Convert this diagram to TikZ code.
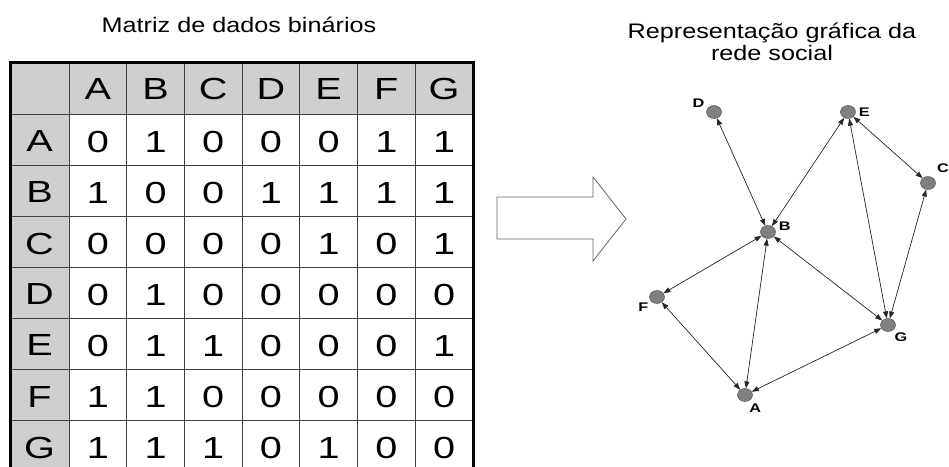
\documentclass[tikz,border=0pt]{standalone}
\usepackage{fontspec}
\usepackage{graphicx}
\setmainfont{Liberation Sans}
\usetikzlibrary{arrows.meta,shapes.geometric,positioning}

% the lettering is set a little wider than the font
\newcommand{\widetext}[2][1.3]{\scalebox{#1}[1]{#2}}

\begin{document}
\begin{tikzpicture}[
    x=1pt, y=-1pt,
    cell/.style={font=\fontsize{30.5}{30}\selectfont, inner sep=0pt},
    heading/.style={font=\fontsize{21}{21}\selectfont, inner sep=0pt, anchor=base},
    actor/.style={ellipse, draw=black!75, fill=black!50, minimum width=15pt, minimum height=13pt, inner sep=0pt},
    tag/.style={font=\bfseries\fontsize{12.5}{12}\selectfont, inner sep=0pt},
    link/.style={{Triangle[length=7pt,width=5pt]}-{Triangle[length=7pt,width=5pt]}, black!85, line width=0.7pt},
    rule/.style={black!75, line width=0.9pt},
    label distance=3pt
]

\fill[white] (0,0) rectangle (949,466);
\useasboundingbox (0,0) rectangle (949,466);

% matrix: shaded header row and column, then the grid
\fill[black!19] (10,62) rectangle (473,114);
\fill[black!19] (10,62) rectangle (69,490);
\foreach \j in {0,...,6}
    \draw[rule] (69+57.7*\j,62) -- (69+57.7*\j,490);
\foreach \i in {0,...,6}
    \draw[rule] (10,114+51*\i) -- (473,114+51*\i);
\draw[line width=3pt] (10,62) rectangle (473,490);

\node[heading] (title-matrix) at (239,32) {\widetext[1.2]{Matriz de dados binários}};

\foreach \name [count=\j] in {A,B,C,D,E,F,G} {
    \node[cell] (col-\name) at (40.15+57.7*\j,89) {\widetext{\name}};
    \node[cell] (row-\name) at (39.5,90.5+51*\j) {\widetext{\name}};
}

\foreach \vals [count=\i] in {{0,1,0,0,0,1,1},{1,0,0,1,1,1,1},{0,0,0,0,1,0,1},
        {0,1,0,0,0,0,0},{0,1,1,0,0,0,1},{1,1,0,0,0,0,0},{1,1,1,0,1,0,0}}
    \foreach \v [count=\j] in \vals
        \node[cell] (m-\i-\j) at (40.15+57.7*\j,91+51*\i) {\widetext{\v}};

% block arrow
\draw[black!60, line width=0.8pt] (497,197) -- (593,197) -- (593,177) -- (626,219)
    -- (593,261) -- (593,239) -- (497,239) -- cycle;

% social network
\node[heading] (title-graph) at (772,38) {\widetext[1.2]{Representação gráfica da}};
\node[heading] (title-graph2) at (772,60) {\widetext[1.2]{rede social}};

\node[actor, label={[tag]155:\widetext{D}}] (D) at (714,112) {};
\node[actor, label={[tag]0:\widetext{E}}] (E) at (848,112) {};
\node[actor] (C) at (928,183) {};
\node[actor, label={[tag]5:\widetext{B}}] (B) at (768,232) {};
\node[actor, label={[tag]215:\widetext{F}}] (F) at (657,297) {};
\node[actor, label={[tag]-50:\widetext{G}}] (G) at (888,325) {};
\node[actor, label={[tag]-65:\widetext{A}}] (A) at (745,395) {};
\node[tag, anchor=east] (C-tag) at (949,168) {\widetext{C}};

\draw[link] (A) -- (B);
\draw[link] (A) -- (F);
\draw[link] (A) -- (G);
\draw[link] (B) -- (D);
\draw[link] (B) -- (E);
\draw[link] (B) -- (F);
\draw[link] (B) -- (G);
\draw[link] (C) -- (E);
\draw[link] (C) -- (G);
\draw[link] (E) -- (G);

\end{tikzpicture}
\end{document}
